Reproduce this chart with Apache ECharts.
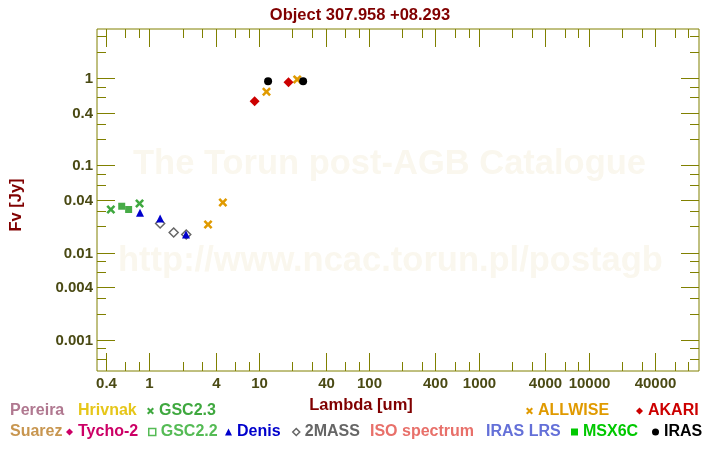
<!DOCTYPE html>
<html>
<head>
<meta charset="utf-8">
<script src="https://cdn.jsdelivr.net/npm/echarts@6/dist/echarts.min.js"></script>
<style>
html, body { margin: 0; padding: 0; background: #fff; }
#chart { width: 720px; height: 450px; }
</style>
</head>
<body>
<div id="chart"></div>
<script>
// photometry, [lambda (um), Fv (Jy)]
var gsc23 = [[0.445, 0.0312], [0.812, 0.0366]];
var gsc22 = [[0.559, 0.0340], [0.646, 0.0312]];
var denis = [[0.82, 0.0287], [1.25, 0.0246], [2.15, 0.0161]];
var twoMass = [[1.25, 0.0216], [1.66, 0.0170], [2.16, 0.0161]];
var allwise = [[3.41, 0.0210], [4.65, 0.0375], [11.6, 0.697], [22.1, 0.966]];
var akari = [[9.05, 0.541], [18.4, 0.893]];
var iras = [[12, 0.917], [25, 0.917]];

// axis ticks
var xMajor = [0.4, 1, 4, 10, 40, 100, 400, 1000, 4000, 10000, 40000];
var xMinor = [0.6, 0.8, 2, 3, 6, 8, 20, 30, 60, 80, 200, 300, 600, 800, 2000, 3000, 6000, 8000, 20000, 30000, 60000, 80000];
var yMajor = [0.001, 0.004, 0.01, 0.04, 0.1, 0.4, 1];
var yMinor = [0.0006, 0.0008, 0.002, 0.003, 0.006, 0.008, 0.02, 0.03, 0.06, 0.08, 0.2, 0.3, 0.6, 0.8, 2, 3];

var xMin = 0.333, xMax = 100000;
var yMin = 0.00044, yMax = 3.65;

// legend entries
var names = ['Pereira', 'Hrivnak', 'GSC2.3', 'ALLWISE', 'AKARI', 'Suarez', 'Tycho-2', 'GSC2.2', 'Denis', '2MASS', 'ISO spectrum', 'IRAS LRS', 'MSX6C', 'IRAS'];
var colors = ['#b07890', '#e6c619', '#3fa83f', '#e09a00', '#cc0000', '#c89650', '#cc0066', '#55bb55', '#0000cc', '#666666', '#e8706a', '#6470d8', '#00c800', '#000000'];

var crossPath = 'path://M0,2L2,0L5,3L8,0L10,2L7,5L10,8L8,10L5,7L2,10L0,8L3,5Z';
var icons = {
    'GSC2.3': crossPath, 'ALLWISE': crossPath, 'AKARI': 'diamond', 'Tycho-2': 'diamond',
    'GSC2.2': 'rect', 'Denis': 'triangle', '2MASS': 'diamond', 'MSX6C': 'rect', 'IRAS': 'circle'
};
var hollowIcon = { 'GSC2.2': true, '2MASS': true };
// left, top of every legend entry
var legendPos = {
    'Pereira': [5, 403], 'Hrivnak': [73, 403], 'GSC2.3': [147, 403], 'ALLWISE': [526, 403], 'AKARI': [636, 403],
    'Suarez': [5, 424], 'Tycho-2': [66, 424], 'GSC2.2': [148, 424], 'Denis': [225, 424], '2MASS': [292, 424],
    'ISO spectrum': [365, 424], 'IRAS LRS': [481, 424], 'MSX6C': [571, 424], 'IRAS': [652, 424]
};

var myChart = echarts.init(document.getElementById('chart'), null, { renderer: 'canvas' });

var axisColor = '#808000';
var fontFam = '"Liberation Sans", Arial, sans-serif';
var tickFont = 'bold 15px ' + fontFam;
var tickColor = '#4a4a14';
var wmColor = '#faf7ee';

function colorOf(name) {
    return colors[names.indexOf(name)];
}

var legends = names.map(function (n) {
    var ic = icons[n];
    var item = { name: n, icon: ic || 'rect', textStyle: { color: colorOf(n) } };
    if (ic) {
        item.itemStyle = hollowIcon[n]
            ? { color: '#fff', borderColor: colorOf(n), borderWidth: 1.5, opacity: 1 }
            : { color: colorOf(n), borderWidth: 0, opacity: 1 };
    }
    return {
        data: [item],
        left: legendPos[n][0],
        top: legendPos[n][1],
        padding: 0,
        itemWidth: ic ? 7 : 0,
        itemHeight: ic ? 7 : 0,
        selectedMode: false,
        textStyle: { fontFamily: fontFam, fontWeight: 'bold', fontSize: 16 }
    };
});

function scatter(name, data, symbol, size, z, st) {
    return {
        name: name,
        type: 'scatter',
        data: data,
        symbol: symbol,
        symbolSize: size,
        itemStyle: st || { color: colorOf(name), opacity: 1 },
        z: z || 5
    };
}

var series = [
    scatter('GSC2.3', gsc23, crossPath, 9),
    scatter('GSC2.2', gsc22, 'rect', 7, 5, { color: '#47ab47', opacity: 1 }),
    scatter('2MASS', twoMass, 'diamond', 9, 4, { color: '#fff', borderColor: colorOf('2MASS'), borderWidth: 1.5, opacity: 1 }),
    scatter('Denis', denis, 'triangle', 8, 6),
    scatter('ALLWISE', allwise, crossPath, 9),
    scatter('AKARI', akari, 'diamond', 10),
    scatter('IRAS', iras, 'circle', 8)
];
// entries without points in this plot
['Pereira', 'Hrivnak', 'Suarez', 'Tycho-2', 'ISO spectrum', 'IRAS LRS', 'MSX6C'].forEach(function (n) {
    series.push({ name: n, type: 'scatter', data: [], itemStyle: { color: colorOf(n) } });
});

// x ticks (top and bottom) with labels
series.push({
    type: 'custom',
    clip: false,
    silent: true,
    z: 3,
    encode: { x: 0, y: 1 },
    data: xMajor.map(function (v) { return [v, 1, 1]; }).concat(xMinor.map(function (v) { return [v, 1, 0]; })),
    renderItem: function (params, api) {
        var cs = params.coordSys;
        var x = Math.round(api.coord([api.value(0), 1])[0]) + 0.5;
        var major = api.value(2) === 1;
        var len = major ? 18 : 9;
        var b = cs.y + cs.height, t = cs.y;
        var st = { stroke: axisColor, lineWidth: 1 };
        var kids = [
            { type: 'line', shape: { x1: x, y1: b, x2: x, y2: b - len }, style: st },
            { type: 'line', shape: { x1: x, y1: t, x2: x, y2: t + len }, style: st }
        ];
        if (major) {
            kids.push({ type: 'text', x: x, y: b + 5, style: { text: String(api.value(0)), fill: tickColor, font: tickFont, align: 'center', verticalAlign: 'top' } });
        }
        return { type: 'group', children: kids };
    }
});

// y ticks (left and right) with labels
series.push({
    type: 'custom',
    clip: false,
    silent: true,
    z: 3,
    encode: { x: 0, y: 1 },
    data: yMajor.map(function (v) { return [1, v, 1]; }).concat(yMinor.map(function (v) { return [1, v, 0]; })),
    renderItem: function (params, api) {
        var cs = params.coordSys;
        var y = Math.round(api.coord([1, api.value(1)])[1]) + 0.5;
        var major = api.value(2) === 1;
        var len = major ? 18 : 9;
        var l = cs.x, r = cs.x + cs.width;
        var st = { stroke: axisColor, lineWidth: 1 };
        var kids = [
            { type: 'line', shape: { x1: l, y1: y, x2: l + len, y2: y }, style: st },
            { type: 'line', shape: { x1: r, y1: y, x2: r - len, y2: y }, style: st }
        ];
        if (major) {
            kids.push({ type: 'text', x: l - 4, y: y, style: { text: String(api.value(1)), fill: tickColor, font: tickFont, align: 'right', verticalAlign: 'middle' } });
        }
        return { type: 'group', children: kids };
    }
});

var option = {
    animation: false,
    backgroundColor: '#fff',
    title: {
        text: 'Object 307.958 +08.293',
        left: 'center',
        top: 2,
        textStyle: { color: '#800000', fontFamily: fontFam, fontWeight: 'bold', fontSize: 16.5 }
    },
    graphic: [
        { type: 'text', left: 133, top: 147, z: -1, style: { text: 'The Torun post-AGB Catalogue', fill: wmColor, font: 'bold 34.5px ' + fontFam } },
        { type: 'text', left: 118, top: 244, z: -1, style: { text: 'http://www.ncac.torun.pl/postagb', fill: wmColor, font: 'bold 34.5px ' + fontFam } }
    ],
    legend: legends,
    grid: {
        left: 92, right: 21, top: 29, bottom: 79,
        show: true, borderColor: axisColor, borderWidth: 1, backgroundColor: 'transparent'
    },
    xAxis: {
        type: 'log',
        logBase: 10,
        min: xMin,
        max: xMax,
        name: 'Lambda [um]',
        nameLocation: 'middle',
        nameGap: 26,
        nameTextStyle: { color: '#800000', fontFamily: fontFam, fontWeight: 'bold', fontSize: 16.5, padding: [0, 74, 0, 0] },
        axisLine: { show: false },
        axisTick: { show: false },
        axisLabel: { show: false },
        splitLine: { show: false }
    },
    yAxis: {
        type: 'log',
        logBase: 10,
        min: yMin,
        max: yMax,
        name: 'Fv [Jy]',
        nameLocation: 'middle',
        nameGap: 72,
        nameRotate: 90,
        nameTextStyle: { color: '#800000', fontFamily: fontFam, fontWeight: 'bold', fontSize: 16.5, padding: [0, 10, 0, 0] },
        axisLine: { show: false },
        axisTick: { show: false },
        axisLabel: { show: false },
        splitLine: { show: false }
    },
    series: series
};

myChart.setOption(option);
</script>
</body>
</html>
